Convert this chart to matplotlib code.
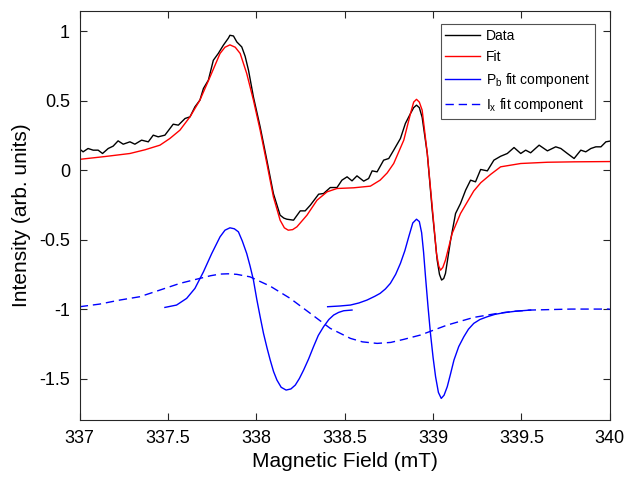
import numpy as np
import matplotlib
matplotlib.use("Agg")
import matplotlib.pyplot as plt

plt.rcParams['font.family'] = ['Liberation Sans', 'DejaVu Sans']
plt.rcParams['axes.unicode_minus'] = False
plt.rcParams['mathtext.fontset'] = 'custom'
plt.rcParams['mathtext.rm'] = 'Liberation Sans'
plt.rcParams['mathtext.it'] = 'Liberation Sans'

# data
data_x = [337.0, 337.019, 337.047, 337.076, 337.104, 337.129, 337.161, 337.189, 337.217, 337.246,
          337.284, 337.312, 337.35, 337.388, 337.416, 337.444, 337.482, 337.529, 337.558, 337.596,
          337.624, 337.652, 337.68, 337.70, 337.728, 337.756, 337.784, 337.813, 337.841, 337.85,
          337.87, 337.889, 337.917, 337.936, 337.955, 337.983, 338.021, 338.059, 338.096, 338.134,
          338.155, 338.172, 338.21, 338.248, 338.276, 338.305, 338.352, 338.38, 338.418, 338.456,
          338.484, 338.513, 338.541, 338.569, 338.607, 338.635, 338.655, 338.683, 338.72, 338.749,
          338.777, 338.815, 338.843, 338.872, 338.89, 338.906, 338.922, 338.938, 338.967, 338.995,
          339.023, 339.036, 339.048, 339.06, 339.07, 339.099, 339.127, 339.155, 339.184, 339.212,
          339.24, 339.269, 339.307, 339.344, 339.382, 339.42, 339.458, 339.496, 339.524, 339.552,
          339.60, 339.647, 339.694, 339.723, 339.76, 339.798, 339.836, 339.864, 339.893, 339.921,
          339.95, 339.978, 340.0]
data_y = [0.151, 0.132, 0.156, 0.144, 0.144, 0.12, 0.156, 0.173, 0.211, 0.187,
          0.204, 0.187, 0.216, 0.204, 0.252, 0.24, 0.252, 0.331, 0.324, 0.372,
          0.384, 0.456, 0.504, 0.588, 0.648, 0.791, 0.84, 0.90, 0.950, 0.971,
          0.966, 0.923, 0.887, 0.82, 0.72, 0.527, 0.312, 0.072, -0.168, -0.324,
          -0.345, -0.353, -0.36, -0.293, -0.293, -0.252, -0.173, -0.168, -0.125, -0.125,
          -0.072, -0.048, -0.077, -0.041, -0.079, -0.060, -0.005, -0.012, 0.072, 0.084,
          0.144, 0.228, 0.336, 0.408, 0.45, 0.468, 0.45, 0.38, 0.12, -0.288,
          -0.647, -0.75, -0.791, -0.78, -0.743, -0.504, -0.312, -0.24, -0.144, -0.072,
          -0.084, 0.005, -0.005, 0.072, 0.10, 0.12, 0.163, 0.12, 0.144, 0.125,
          0.18, 0.139, 0.168, 0.156, 0.12, 0.084, 0.144, 0.132, 0.156, 0.168,
          0.168, 0.204, 0.209]

fit_x = [337.0, 337.142, 337.284, 337.37, 337.454, 337.51, 337.567, 337.624, 337.68, 337.737,
         337.794, 337.822, 337.85, 337.88, 337.908, 337.945, 337.983, 338.021, 338.059, 338.096,
         338.134, 338.158, 338.18, 338.205, 338.229, 338.286, 338.343, 338.40, 338.456, 338.55,
         338.645, 338.70, 338.74, 338.777, 338.834, 338.872, 338.89, 338.906, 338.922, 338.938,
         338.967, 338.995, 339.019, 339.032, 339.042, 339.055, 339.07, 339.108, 339.155, 339.23,
         339.27, 339.326, 339.382, 339.496, 339.647, 339.8, 340.0]
fit_y = [0.078, 0.098, 0.12, 0.147, 0.18, 0.228, 0.288, 0.384, 0.504, 0.67,
         0.84, 0.885, 0.902, 0.885, 0.84, 0.696, 0.504, 0.288, 0.048, -0.192,
         -0.36, -0.415, -0.432, -0.428, -0.408, -0.324, -0.216, -0.156, -0.132, -0.127,
         -0.115, -0.072, -0.02, 0.048, 0.216, 0.408, 0.49, 0.51, 0.49, 0.432,
         0.12, -0.264, -0.6, -0.69, -0.72, -0.70, -0.647, -0.455, -0.312, -0.15,
         -0.09, -0.03, 0.024, 0.048, 0.057, 0.06, 0.062]

pb1_x = [337.482, 337.548, 337.605, 337.652, 337.70, 337.747, 337.794, 337.822, 337.85, 337.875,
         337.898, 337.92, 337.945, 337.964, 337.983, 338.002, 338.021, 338.04, 338.06, 338.078,
         338.097, 338.116, 338.14, 338.168, 338.195, 338.22, 338.243, 338.267, 338.295, 338.323,
         338.35, 338.38, 338.41, 338.437, 338.465, 338.494, 338.541]
pb1_y = [-0.988, -0.971, -0.923, -0.851, -0.732, -0.6, -0.48, -0.432, -0.415, -0.422,
         -0.444, -0.51, -0.6, -0.69, -0.791, -0.93, -1.055, -1.175, -1.28, -1.367,
         -1.45, -1.511, -1.563, -1.583, -1.575, -1.547, -1.50, -1.439, -1.36, -1.271,
         -1.19, -1.127, -1.075, -1.043, -1.024, -1.012, -1.007]

pb2_x = [338.403, 338.47, 338.532, 338.58, 338.626, 338.67, 338.70, 338.73, 338.758, 338.788,
         338.815, 338.84, 338.862, 338.885, 338.906, 338.922, 338.935, 338.946, 338.957, 338.971,
         338.985, 339.0, 339.014, 339.03, 339.046, 339.062, 339.08, 339.098, 339.118, 339.145,
         339.174, 339.2, 339.23, 339.265, 339.307, 339.35, 339.401, 339.47, 339.552]
pb2_y = [-0.983, -0.978, -0.971, -0.956, -0.935, -0.908, -0.887, -0.855, -0.815, -0.75,
         -0.671, -0.58, -0.48, -0.38, -0.353, -0.37, -0.45, -0.59, -0.768, -0.98,
         -1.175, -1.35, -1.487, -1.60, -1.643, -1.62, -1.559, -1.47, -1.367, -1.27,
         -1.199, -1.145, -1.103, -1.075, -1.055, -1.038, -1.026, -1.015, -1.007]

ix_x = [337.0, 337.113, 337.227, 337.34, 337.454, 337.567, 337.68, 337.74, 337.794, 337.84,
        337.889, 337.964, 338.078, 338.191, 338.305, 338.418, 338.532, 338.6, 338.683, 338.76,
        338.834, 338.928, 339.08, 339.23, 339.364, 339.45, 339.552, 339.78, 340.0]
ix_y = [-0.983, -0.964, -0.935, -0.911, -0.863, -0.815, -0.779, -0.76, -0.748, -0.746,
        -0.75, -0.768, -0.835, -0.923, -1.031, -1.139, -1.211, -1.236, -1.247, -1.24,
        -1.218, -1.187, -1.115, -1.06, -1.031, -1.017, -1.007, -1.0, -1.0]

fig = plt.figure(figsize=(6.28, 4.83), dpi=100)
ax = fig.add_axes([0.127, 0.130, 0.844, 0.847])

blue = '#0000ff'
ax.plot(data_x, data_y, color='black', lw=1.0, label='Data')
ax.plot(fit_x, fit_y, color='#ff0000', lw=1.0, label='Fit')
ax.plot(pb1_x, pb1_y, color=blue, lw=1.0, label='P$_\\mathregular{b}$ fit component')
ax.plot(pb2_x, pb2_y, color=blue, lw=1.0)
ax.plot(ix_x, ix_y, color=blue, lw=1.0, dashes=(6, 3.5), label='I$_\\mathregular{x}$ fit component')

ax.set_xlim(337, 340)
ax.set_ylim(-1.8, 1.145)
ax.set_xticks([337, 337.5, 338, 338.5, 339, 339.5, 340])
ax.set_xticklabels(['337', '337.5', '338', '338.5', '339', '339.5', '340'])
ax.set_yticks([-1.5, -1, -0.5, 0, 0.5, 1])
ax.set_yticklabels(['-1.5', '-1', '-0.5', '0', '0.5', '1'])
ax.tick_params(direction='in', top=True, right=True, length=5, width=0.8,
               labelsize=13, colors='#262626', labelcolor='black', pad=7)
for s in ax.spines.values():
    s.set_color('#262626')
    s.set_linewidth(0.8)

ax.set_xlabel('Magnetic Field (mT)', fontsize=15, labelpad=4)
ax.set_ylabel('Intensity (arb. units)', fontsize=15, labelpad=6)

leg = ax.legend(loc='upper right', fontsize=10, frameon=True, fancybox=False,
                edgecolor='#262626', handlelength=2.5, handletextpad=0.4,
                borderpad=0.35, labelspacing=0.5, bbox_to_anchor=(0.985, 0.985))
leg.get_frame().set_linewidth(0.8)

fig.savefig('out.png', dpi=100)
